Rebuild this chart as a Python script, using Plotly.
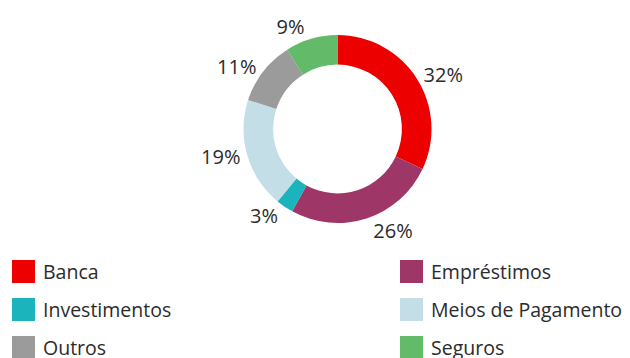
import plotly.graph_objects as go

labels = ["Banca", "Empréstimos", "Investimentos", "Meios de Pagamento", "Outros", "Seguros"]
values = [32, 26, 3, 19, 11, 9]
colors = ["#EC0000", "#9E3667", "#1BB3BC", "#C3DEE7", "#9B9B9B", "#63BA68"]

W, H = 630, 358
FONT = "Open Sans"
TXT = "#2B2B2B"

fig = go.Figure()
fig.add_trace(go.Pie(
    labels=labels, values=values, sort=False, direction="clockwise", rotation=0,
    hole=0.685,
    marker=dict(colors=colors, line=dict(width=0)),
    texttemplate="%{percent:.0%}", textposition="outside",
    textfont=dict(family=FONT, size=20, color=TXT),
    domain=dict(x=[243.5 / W, 431.5 / W], y=[1 - 223 / H, 1 - 35 / H]),
    showlegend=False, hoverinfo="label+percent",
))

# custom legend: 2 columns x 3 rows
col_x = [12, 400]
row_y = [271.5, 309.5, 347.5]
sq = 23
shapes, annos = [], []
for i, (lab, col) in enumerate(zip(labels, colors)):
    cx = col_x[i % 2]
    cy = row_y[i // 2]
    shapes.append(dict(type="rect", xref="paper", yref="paper",
                       x0=cx / W, x1=(cx + sq) / W,
                       y0=1 - (cy + sq / 2) / H, y1=1 - (cy - sq / 2) / H,
                       fillcolor=col, line=dict(width=0)))
    annos.append(dict(xref="paper", yref="paper", x=(cx + sq + 6) / W, y=1 - cy / H,
                      text=lab, showarrow=False, xanchor="left", yanchor="middle",
                      font=dict(family=FONT, size=19.5, color=TXT)))

fig.update_layout(
    width=W, height=H, margin=dict(l=0, r=0, t=0, b=0),
    paper_bgcolor="white", plot_bgcolor="white",
    shapes=shapes, annotations=annos,
)
fig.write_html("out.html")
